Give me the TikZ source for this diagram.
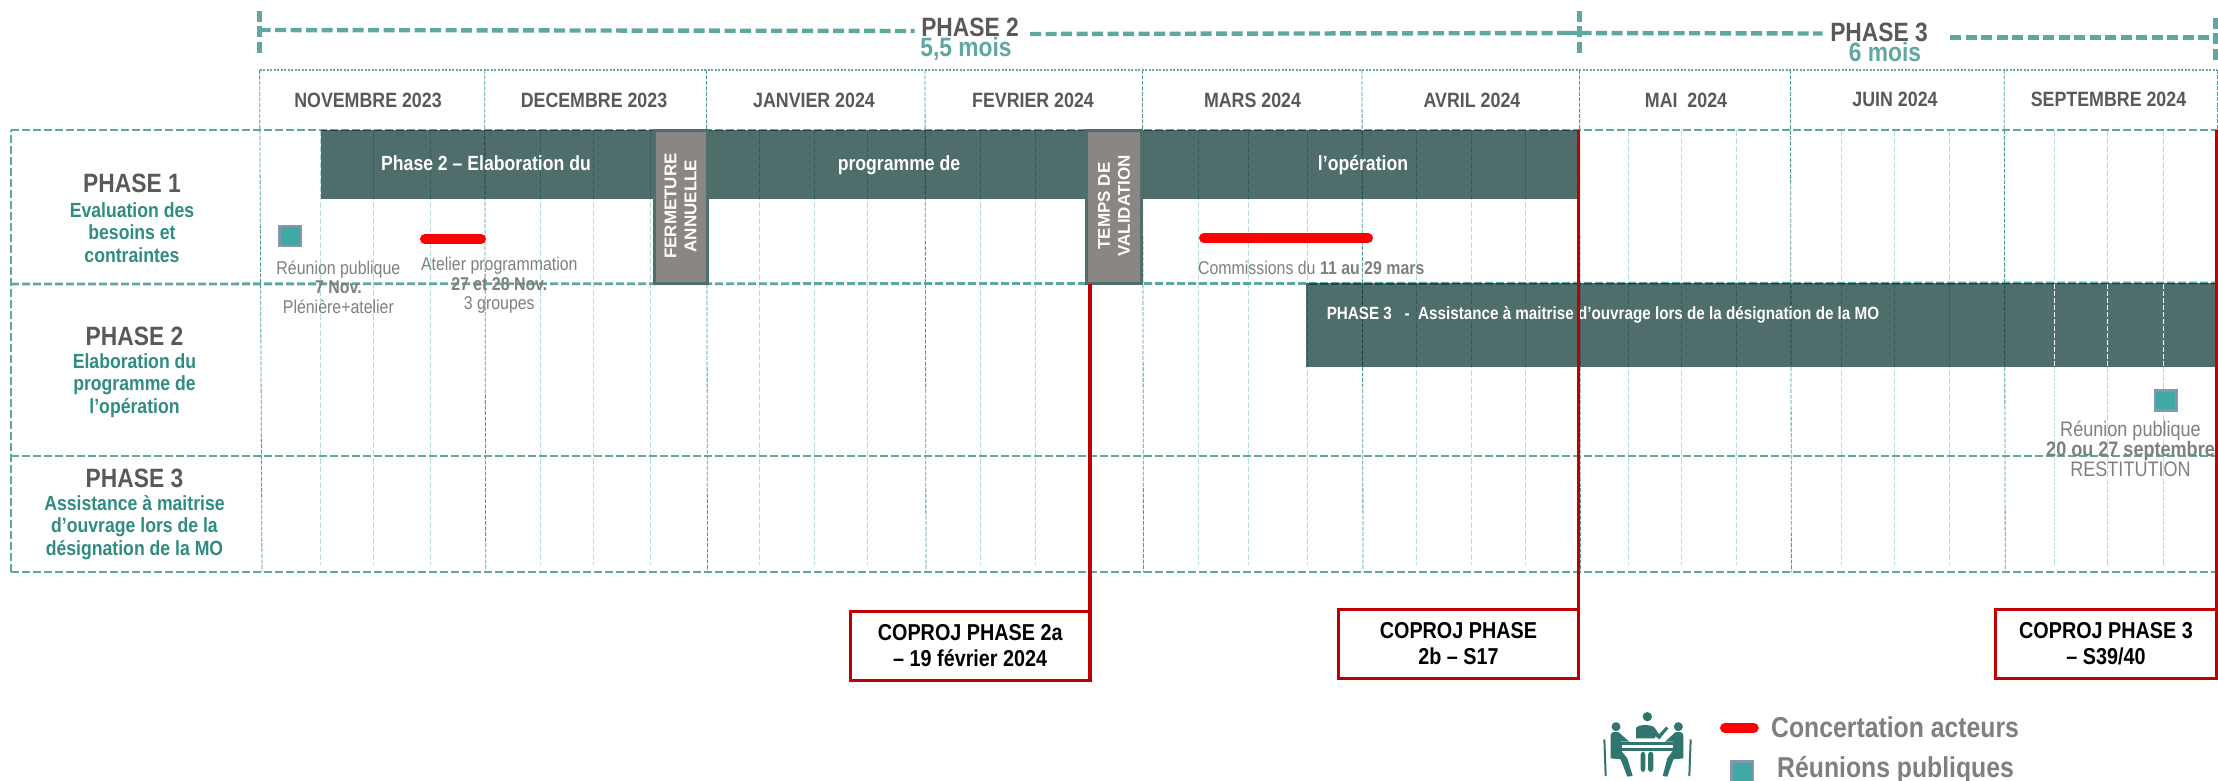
\documentclass[tikz,border=0pt]{standalone}
\usepackage{fontspec}
\setmainfont[FakeStretch=0.86]{Liberation Sans}
\newfontfamily\arialfont{Liberation Sans}
\usetikzlibrary{positioning}
\definecolor{tealdash}{HTML}{5FA8A0}
\definecolor{tealline}{HTML}{4F9A92}
\definecolor{tealweek}{HTML}{B5DCD7}
\definecolor{tealsub}{HTML}{2F8C80}
\definecolor{barfill}{HTML}{4F6D6A}
\definecolor{greyfill}{HTML}{8A8684}
\definecolor{greytext}{HTML}{595959}
\definecolor{softtext}{HTML}{7F7F7F}
\definecolor{squarefill}{HTML}{40A9A4}
\definecolor{squareline}{HTML}{8497B0}
\definecolor{coproj}{HTML}{C00000}
\definecolor{peoplefill}{HTML}{31756F}
\tikzset{
  rowline/.style={tealdash,line width=2.8pt,dash pattern=on 8pt off 3pt},
  bracket/.style={tealdash,line width=4.4pt,dash pattern=on 11pt off 4.5pt},
  monthline/.style={tealline,line width=.8pt,dash pattern=on 4pt off 1.5pt},
  weekline/.style={tealweek,line width=1pt,dash pattern=on 6pt off 2pt},
  monthlabel/.style={text=greytext,font=\fontsize{20.7}{21}\selectfont\bfseries},
  phasetitle/.style={text=greytext,align=center,font=\fontsize{26.5}{27}\selectfont\bfseries},
  phasesub/.style={text=tealsub,align=center,font=\fontsize{20.5}{22.5}\selectfont\bfseries},
  lengthlabel/.style={text=tealdash,font=\fontsize{26.5}{27}\selectfont\bfseries},
  bartext/.style={text=white,text height=15pt,text depth=4pt,font=\fontsize{20.5}{21}\selectfont\bfseries},
  eventtext/.style={text=softtext,align=center,font=\fontsize{18.5}{19}\selectfont},
  bigevent/.style={text=softtext,align=center,font=\fontsize{21}{18.5}\selectfont},
  ganttbar/.style={fill=barfill,blend mode=multiply},
  pausebox/.style={fill=greyfill,draw=barfill,line width=3pt,outer sep=0pt},
  pausetext/.style={text=white,align=center,rotate=90,font=\arialfont\fontsize{17}{20}\selectfont\bfseries},
  meetmark/.style={fill=squarefill,draw=squareline,line width=2.5pt},
  workline/.style={red,line width=10pt,line cap=round},
  coprojbox/.style={draw=coproj,line width=3pt,fill=white,align=center,text=black,inner sep=0pt,outer sep=0pt,
                    font=\fontsize{23}{26}\selectfont\bfseries},
  coprojline/.style={coproj,line width=3.5pt},
  legendtext/.style={text=softtext,anchor=west,font=\fontsize{28.8}{29}\selectfont\bfseries},
}
\begin{document}
\begin{tikzpicture}[x=1pt,y=-1pt]
  \useasboundingbox (0,0) rectangle (2218,781);
  % week and month grid
  \foreach \wx in {320.4,373.8,430.4,540.8,593.7,650.3,759.8,814,867.4,980.7,1035,1198,1248.7,1307,
                   1416.3,1471.5,1525,1628,1681,1736,1841,1894,1949.5}
    \draw[weekline] (\wx,130) -- (\wx,565);
  \foreach \wx in {2054,2107.5,2163.7}
    \draw[weekline] (\wx,367) -- (\wx,565);
  \foreach \wx in {2054,2107.5,2163.7}
    \draw[weekline] (\wx,130) -- (\wx,283);
  \draw[monthline] (259.6,70) -- (262,572);
  \foreach \mx in {484.7,706.5,925,1142.5,1362,1579.5,1790.4,2004.2}
    \draw[monthline] (\mx,70) -- (\mx+1,572);
  \draw[tealdash,line width=1.4pt,dash pattern=on 2pt off 1.5pt] (259.6,70) -- (2217,70);
  \draw[monthline] (2217,70) -- (2217,130);
  % phase rows
  \draw[rowline,line width=1.2pt] (11,572) -- (11,130);
  \draw[rowline] (11,130) -- (2218,130);
  \draw[rowline] (11,284) -- (2218,283);
  \draw[rowline] (11,456) -- (2218,456);
  \draw[rowline] (11,572) -- (2218,572);
  % gantt bars
  \node[ganttbar,minimum width=1258.5pt,minimum height=69.3pt,inner sep=0pt,outer sep=0pt,anchor=north west] (barphase2) at (321,130) {};
  \node[ganttbar,minimum width=912pt,minimum height=84.3pt,inner sep=0pt,outer sep=0pt,anchor=north west] (barphase3) at (1306,283) {};
  \foreach \wx in {2054,2107.5,2163.7}
    \draw[white,line width=.8pt,dash pattern=on 5pt off 2pt] (\wx,284) -- (\wx,367);
  \node[bartext] (barlabela) at (486,164.7) {Phase 2 – Elaboration du};
  \node[bartext] (barlabelb) at (899,164.7) {programme de};
  \node[bartext] (barlabelc) at (1363,164.7) {l’opération};
  \node[text=white,anchor=west,inner sep=0pt,font=\fontsize{17.7}{18}\selectfont\bfseries] (barlabeld) at (1326.6,315)
    {PHASE 3 \ \ - \ Assistance à maitrise d’ouvrage lors de la désignation de la MO};
  % closed periods
  \node[pausebox,minimum width=53pt,minimum height=153pt,inner sep=0pt] (closed) at (680.5,207) {};
  \node[pausetext] (closedtext) at (680.5,206) {FERMETURE\\ANNUELLE};
  \node[pausebox,minimum width=55pt,minimum height=153pt,inner sep=0pt] (valid) at (1114,207) {};
  \node[pausetext] (validtext) at (1114,206) {TEMPS DE\\VALIDATION};
  % phase span on top
  \coordinate (spanA) at (259.6,30);
  \coordinate (spanB) at (914.6,31);
  \coordinate (spanC) at (1030,34);
  \coordinate (spanD) at (1579.5,33);
  \coordinate (spanE) at (1822.5,33.5);
  \coordinate (spanF) at (1950,37.5);
  \coordinate (spanG) at (2216,37.5);
  \draw[bracket] (spanA) -- (spanB);
  \draw[bracket] (spanC) -- (spanD);
  \draw[bracket] (1565,33) -- (spanE);
  \draw[bracket] (spanF) -- (spanG);
  \draw[bracket] (259.6,11) -- (259.6,53);
  \draw[bracket] (1579.5,11) -- (1579.5,53);
  \draw[bracket] (2215.5,18) -- (2215.5,60);
  \node[phasetitle] (spantwo) at (970,27) {PHASE 2};
  \node[lengthlabel] (spantwolen) at (966,49) {5,5 mois};
  \node[phasetitle] (spanthree) at (1879,32) {PHASE 3};
  \node[lengthlabel] (spanthreelen) at (1885,52) {6 mois};
  % months
  \node[monthlabel] (nov) at (368,100) {NOVEMBRE 2023};
  \node[monthlabel] (dec) at (594,100) {DECEMBRE 2023};
  \node[monthlabel] (jan) at (814,100) {JANVIER 2024};
  \node[monthlabel] (fev) at (1033,100) {FEVRIER 2024};
  \node[monthlabel] (mar) at (1252.5,100) {MARS 2024};
  \node[monthlabel] (avr) at (1472,100) {AVRIL 2024};
  \node[monthlabel] (mai) at (1686,100) {MAI\ \ 2024};
  \node[monthlabel] (jui) at (1895,99) {JUIN 2024};
  \node[monthlabel] (sep) at (2108.5,99.3) {SEPTEMBRE 2024};
  % row titles
  \node[phasetitle] (rowone) at (132,183) {PHASE 1};
  \node[phasesub] (rowonesub) at (132,232.5) {Evaluation des\\besoins et\\contraintes};
  \node[phasetitle] (rowtwo) at (134.5,336) {PHASE 2};
  \node[phasesub] (rowtwosub) at (134.5,385.3) {Elaboration du\\programme de\\l’opération};
  \node[phasetitle] (rowthree) at (134.5,478.3) {PHASE 3};
  \node[phasesub] (rowthreesub) at (134.5,527.5) {Assistance à maitrise\\d’ouvrage lors de la\\désignation de la MO};
  % events
  \node[meetmark,minimum width=21.5pt,minimum height=20pt,inner sep=0pt] (meetnov) at (290.2,236) {};
  \node[eventtext] (meetnovtext) at (338.4,286.8) {Réunion publique\\[.5pt]\textbf{7 Nov.}\\[.5pt]Plénière+atelier};
  \coordinate (workAa) at (425,239);
  \coordinate (workAb) at (481,239);
  \draw[workline] (workAa) -- (workAb);
  \node[eventtext] (worktext) at (499.3,285.7) {Atelier programmation\\[.5pt]\textbf{27 et 28 Nov.}\\[.5pt]3 groupes};
  \coordinate (workBa) at (1204,238);
  \coordinate (workBb) at (1368,238);
  \draw[workline] (workBa) -- (workBb);
  \node[eventtext,anchor=west,inner sep=0pt] (commtext) at (1197.8,267.7) {Commissions du \textbf{11 au 29 mars}};
  \node[meetmark,minimum width=21.5pt,minimum height=20pt,inner sep=0pt] (meetsep) at (2165.5,400.3) {};
  \node[bigevent] (meetseptext) at (2130.5,448.9) {Réunion publique\\\textbf{20 ou 27 septembre}\\RESTITUTION};
  % copil boxes
  \node[coprojbox,minimum width=240pt,minimum height=69pt] (boxa) at (970.2,645.7) {COPROJ PHASE 2a\\– 19 février 2024};
  \node[coprojbox,minimum width=240pt,minimum height=69pt] (boxb) at (1458.4,644) {COPROJ PHASE\\2b – S17};
  \node[coprojbox,minimum width=221pt,minimum height=69pt] (boxc) at (2106,644) {COPROJ PHASE 3\\– S39/40};
  \coordinate (topa) at (boxa.east |- valid.south);
  \coordinate (topb) at (boxb.east |- barphase2.north);
  \coordinate (topc) at (boxc.east |- barphase2.north);
  \draw[coprojline] (topa) -- (boxa.south east);
  \draw[coprojline] (topb) -- (boxb.south east);
  \draw[coprojline] (topc) -- (boxc.south east);
  % legend
  \coordinate (legA) at (1725,727.7);
  \coordinate (legB) at (1753.7,727.7);
  \draw[workline] (legA) -- (legB);
  \node[legendtext,inner sep=0pt] (legwork) at (1771,727.3) {Concertation acteurs};
  \node[meetmark,minimum width=21.5pt,minimum height=21pt,inner sep=0pt] (legmark) at (1742,772) {};
  \node[legendtext,inner sep=0pt] (legmeet) at (1777,770) {Réunions publiques};
  % people round a table
  \begin{scope}[shift={(1590,700)},x=.3333pt,y=-.3333pt,fill=peoplefill,draw=peoplefill]
    \fill (172,50) circle (14);
    \fill (78,80) circle (13.5);
    \fill (265,80) circle (13.5);
    \fill (138,115) -- (138,85) .. controls (140,72) and (190,72) .. (195,85) -- (207,103) -- (228,80)
      -- (235,85) -- (208,118) -- (195,108) -- (195,115) -- cycle;
    \fill (62,105) .. controls (62,92) and (90,92) .. (95,105) -- (118,125) -- (92,125) -- (92,150)
      -- (112,175) -- (128,228) -- (112,230) -- (92,178) -- (62,175) -- cycle;
    \fill (280,105) .. controls (280,92) and (252,92) .. (247,105) -- (225,125) -- (250,125) -- (250,150)
      -- (232,175) -- (218,228) -- (232,230) -- (250,178) -- (280,175) -- cycle;
    \draw[line width=3.5,fill=white] (92,130) rectangle (254,148);
    \fill[rounded corners=3] (152,155) rectangle (166,216);
    \fill[rounded corners=3] (174,155) rectangle (190,216);
    \fill (40,118) -- (46,118) -- (50,228) -- (44,228) -- cycle;
    \fill (305,118) -- (299,118) -- (295,228) -- (301,228) -- cycle;
  \end{scope}
\end{tikzpicture}
\end{document}
